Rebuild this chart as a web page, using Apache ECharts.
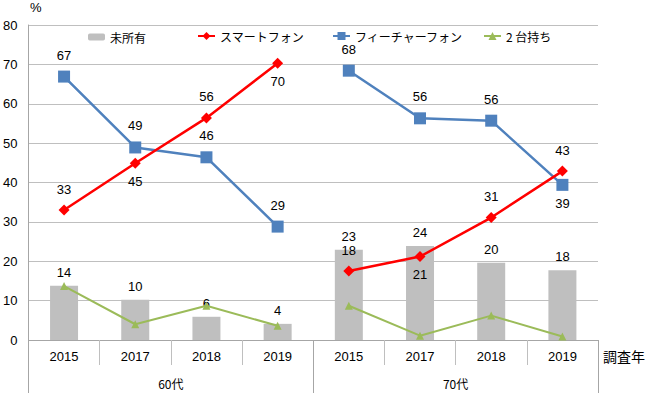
<!DOCTYPE html>
<html>
<head>
<meta charset="utf-8">
<script src="https://cdn.jsdelivr.net/npm/echarts@6/dist/echarts.min.js"></script>
<style>html,body{margin:0;padding:0;background:#fff;}#c{width:648px;height:398px;}</style>
</head>
<body>
<div id="c"></div>
<script>
const categories = ['2015', '2017', '2018', '2019', '2015', '2017', '2018', '2019'];
const groups = ['60代', '70代'];
const unowned = [13.8, 10.2, 5.9, 4.1, 22.9, 23.9, 19.6, 17.7];
const smartphone = [33.0, 44.9, 56.4, 70.3, 17.5, 21.2, 31.1, 42.9];
const featurePhone = [66.9, 48.9, 46.4, 28.8, 68.4, 56.3, 55.7, 39.4];
const twoDevices = [13.7, 4.0, 8.7, 3.6, 8.7, 1.1, 6.2, 0.9];
const yTicks = { min: 0, max: 80, interval: 10 };

// label placement (style only)
const smartPos = ['top', 'bottom', 'top', 'bottom', 'top', 'bottom', 'top', 'top'];
const featurePos = ['top', 'top', 'top', 'top', 'top', 'top', 'top', 'bottom'];

const NUM_FONT = 'Liberation Sans';
const JP_FONT = 'Noto Sans CJK JP';

function part(arr, g, pos) {
  return arr.map((v, i) => {
    if (Math.floor(i / 4) !== g) return null;
    if (!pos) return v;
    return { value: v, label: { position: pos[i], distance: pos[i] === 'top' ? 9 : 6 } };
  });
}

const labelStyle = {
  show: true, color: '#000', fontFamily: NUM_FONT, fontSize: 13, lineHeight: 13,
  formatter: p => (p.value == null ? '' : Math.round(p.value))
};

const series = [{
  name: '未所有', type: 'bar', data: unowned, barWidth: 28,
  itemStyle: { color: '#BFBFBF' },
  label: Object.assign({}, labelStyle, { position: 'top', distance: 7 }),
  z: 1
}];
for (let g = 0; g < 2; g++) {
  series.push({
    name: 'フィーチャーフォン', type: 'line', data: part(featurePhone, g, featurePos),
    symbol: 'rect', symbolSize: 12, lineStyle: { color: '#4F81BD', width: 2.5 },
    itemStyle: { color: '#4F81BD' }, label: Object.assign({}, labelStyle), z: 3
  });
  series.push({
    name: 'スマートフォン', type: 'line', data: part(smartphone, g, smartPos),
    symbol: 'diamond', symbolSize: 11, lineStyle: { color: '#FF0000', width: 2.5 },
    itemStyle: { color: '#FF0000' }, label: Object.assign({}, labelStyle), z: 4
  });
  series.push({
    name: '2 台持ち', type: 'line', data: part(twoDevices, g, null),
    symbol: 'triangle', symbolSize: 8, lineStyle: { color: '#9BBB59', width: 2 },
    itemStyle: { color: '#9BBB59' }, z: 2
  });
}

const legendBase = {
  top: 30, padding: 0, itemWidth: 17, itemHeight: 10, itemGap: 0, itemTextGap: 3,
  textStyle: { fontFamily: JP_FONT, fontSize: 12, color: '#000' }
};

const chart = echarts.init(document.getElementById('c'), null, { renderer: 'svg' });
chart.setOption({
  animation: false,
  backgroundColor: '#fff',
  grid: { left: 28, right: 50, top: 25, bottom: 58, containLabel: false },
  legend: [
    Object.assign({}, legendBase, { data: ['未所有'], left: 88, itemHeight: 7, top: 31 }),
    Object.assign({}, legendBase, { data: ['スマートフォン'], left: 197 }),
    Object.assign({}, legendBase, { data: ['フィーチャーフォン'], left: 332 }),
    Object.assign({}, legendBase, { data: ['2 台持ち'], left: 483 })
  ],
  xAxis: [{
    type: 'category', data: categories, position: 'bottom', boundaryGap: true,
    axisLine: { show: true, lineStyle: { color: '#A6A6A6', width: 1 } },
    axisTick: { show: true, interval: 0, length: 25, lineStyle: { color: '#BFBFBF' } },
    axisLabel: { interval: 0, margin: 10, color: '#000', fontFamily: NUM_FONT, fontSize: 13 }
  }, {
    type: 'category', data: groups, position: 'bottom', offset: 0, boundaryGap: true,
    axisLine: { show: false },
    axisTick: { show: true, interval: 0, length: 53, lineStyle: { color: '#A6A6A6' } },
    axisLabel: { interval: 0, margin: 37, color: '#000', fontFamily: JP_FONT, fontSize: 12 }
  }],
  yAxis: {
    type: 'value', min: yTicks.min, max: yTicks.max, interval: yTicks.interval,
    axisLine: { show: true, lineStyle: { color: '#A6A6A6', width: 1 } },
    axisTick: { show: false },
    splitLine: { show: true, lineStyle: { color: '#BFBFBF', width: 1.2 } },
    axisLabel: { margin: 11, color: '#000', fontFamily: NUM_FONT, fontSize: 13 }
  },
  graphic: [
    { type: 'text', left: 30, top: 1, style: { text: '%', fontFamily: NUM_FONT, fontSize: 13, fill: '#000' } },
    { type: 'text', left: 603, top: 349, style: { text: '調査年', fontFamily: JP_FONT, fontSize: 14, fill: '#000' } }
  ],
  series: series
});
</script>
</body>
</html>
